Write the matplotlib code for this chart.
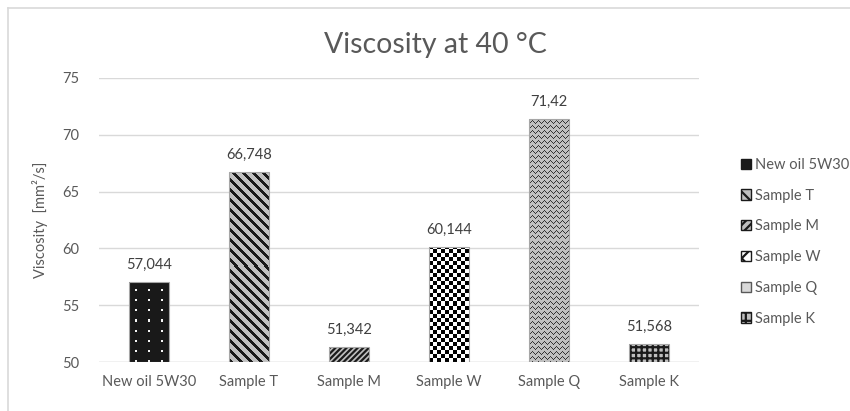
import numpy as np
import matplotlib
matplotlib.use("Agg")
import matplotlib.pyplot as plt
from matplotlib.patches import Patch
from matplotlib.lines import Line2D

# data
categories = ["New oil 5W30", "Sample T", "Sample M", "Sample W", "Sample Q", "Sample K"]
viscosity = [57.044, 66.748, 51.342, 60.144, 71.42, 51.568]
value_labels = ["57,044", "66,748", "51,342", "60,144", "71,42", "51,568"]
y_ticks = [50, 55, 60, 65, 70, 75]

plt.rcParams["font.family"] = ["Lato", "DejaVu Sans"]
plt.rcParams["hatch.linewidth"] = 1.6

TXT = "#595959"
GRID = "#d9d9d9"

fig = plt.figure(figsize=(8.5, 4.11), dpi=100)
ax = fig.add_axes([99 / 850, 1 - 362 / 411, 600 / 850, 284 / 411])

x = np.arange(len(categories))
width = 0.4
PX_PER_UNIT = 284 / 25


def texture(kind, val):
    # pixel-sized fill pattern for one bar
    h = int(round((val - 50) * PX_PER_UNIT))
    rr, cc = np.mgrid[0:h, 0:40]
    if kind == "dots":
        on = ((rr % 10) < 2) & (((cc - 6) % 13) < 2)
        return np.where(on, 0.95, 0.1)
    if kind == "check":
        return (((rr // 4) + (cc // 4)) % 2).astype(float)
    if kind == "wave":
        tri = np.abs((cc % 6) - 3)
        return np.where((rr + tri) % 5 == 0, 0.2, 0.75)
    if kind == "stripes":
        return np.where(((rr + cc) % 10) < 4, 0.1, 0.75)


# fill styles: (face, hatch colour, hatch, texture)
styles = [
    ("#1a1a1a", "white", None, "dots"),
    ("#bfbfbf", "#1a1a1a", None, "stripes"),
    ("#bfbfbf", "#1a1a1a", "//////", None),
    ("white", "#1a1a1a", None, "check"),
    ("#bfbfbf", "#333333", None, "wave"),
    ("#bfbfbf", "#1a1a1a", "+++", None),
]

for i, (val, (fc, hc, h, kind)) in enumerate(zip(viscosity, styles)):
    b = ax.bar(x[i], val - 50, width, bottom=50, color=fc, edgecolor=hc,
               hatch=h, linewidth=0, zorder=3)[0]
    ax.bar(x[i], val - 50, width, bottom=50, fill=False, edgecolor="#a6a6a6",
           linewidth=0.8, zorder=5)
    if kind is not None:
        im = ax.imshow(texture(kind, val), cmap="gray", vmin=0, vmax=1,
                       extent=(x[i] - width / 2, x[i] + width / 2, 50, val),
                       aspect="auto", interpolation="nearest", zorder=4, origin="lower")
        im.set_clip_path(b)

for i, (val, lab) in enumerate(zip(viscosity, value_labels)):
    ax.text(x[i], val + 0.9, lab, ha="center", va="bottom", fontsize=10.5, color="#404040")

ax.set_xlim(-0.5, len(categories) - 0.5)
ax.set_ylim(50, 75)
ax.set_yticks(y_ticks)
ax.set_xticks(x)
ax.set_xticklabels(categories)
ax.tick_params(axis="both", length=0, labelsize=10.5, colors=TXT)
ax.tick_params(axis="y", pad=14)
ax.tick_params(axis="x", pad=9)
ax.grid(axis="y", color=GRID, linewidth=1, zorder=0)
for s in ax.spines.values():
    s.set_visible(False)
ax.axhline(50, color=GRID, linewidth=1, zorder=2)
ax.set_ylabel("Viscosity  [mm²/s]", fontsize=10.5, color=TXT, labelpad=10)

fig.text(435 / 850, 1 - 45 / 411, "Viscosity at 40 °C", ha="center", va="center",
         fontsize=20.5, color=TXT)

# legend with small swatches
handles = [
    Patch(facecolor="#1a1a1a", edgecolor="#1a1a1a"),
    Patch(facecolor="#bfbfbf", edgecolor="#1a1a1a", hatch="\\\\"),
    Patch(facecolor="#bfbfbf", edgecolor="#1a1a1a", hatch="////"),
    Patch(facecolor="white", edgecolor="#1a1a1a", hatch="xx"),
    Patch(facecolor="#d9d9d9", edgecolor="#595959", hatch="vv"),
    Patch(facecolor="#bfbfbf", edgecolor="#1a1a1a", hatch="++"),
]
leg = fig.legend(handles, categories, loc="upper left", bbox_to_anchor=(735 / 850, 1 - 152 / 411),
                 frameon=False, fontsize=10.5, handlelength=0.7, handleheight=0.7,
                 handletextpad=0.3, labelspacing=1.15, borderaxespad=0)
for t in leg.get_texts():
    t.set_color(TXT)

# outer chart border (top and left visible)
fig.add_artist(Line2D([8 / 850, 1], [1 - 8 / 411, 1 - 8 / 411], color=GRID, linewidth=1.2,
                      transform=fig.transFigure))
fig.add_artist(Line2D([8 / 850, 8 / 850], [0, 1 - 8 / 411], color=GRID, linewidth=1.2,
                      transform=fig.transFigure))

fig.savefig("out.png", dpi=100)
